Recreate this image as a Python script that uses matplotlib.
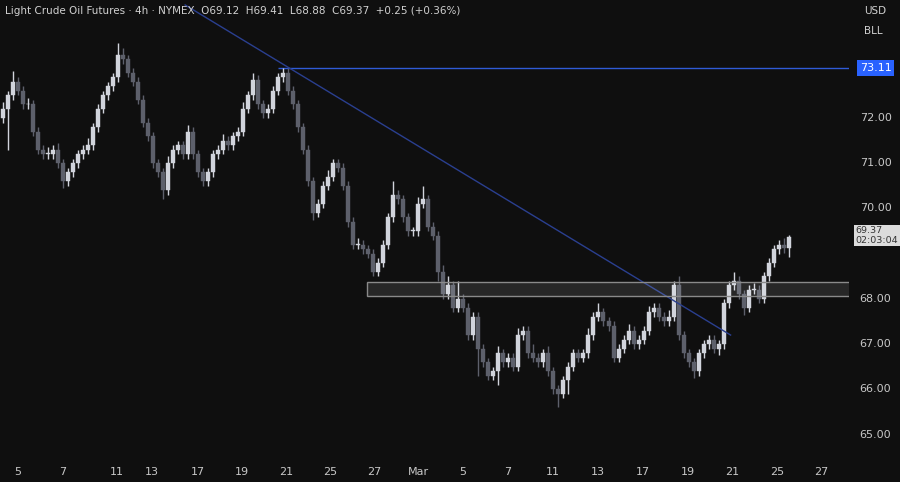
import matplotlib
matplotlib.use("Agg")
import matplotlib.pyplot as plt
from matplotlib.patches import Rectangle

closes = [72.2,72.5,72.8,72.6,72.3,72.3,71.7,71.3,71.2,71.2,
          71.3,71.0,70.6,70.8,71.0,71.2,71.3,71.4,71.8,72.2,
          72.5,72.7,72.9,73.4,73.3,73.0,72.8,72.4,71.9,71.6,
          71.0,70.8,70.4,71.0,71.3,71.4,71.2,71.7,71.2,70.8,
          70.6,70.8,71.2,71.3,71.5,71.4,71.6,71.7,72.2,72.5,
          72.85,72.3,72.1,72.2,72.6,72.9,73.0,72.6,72.3,71.8,
          71.3,70.6,69.9,70.1,70.5,70.7,71.0,70.9,70.5,69.7,
          69.2,69.2,69.1,69.0,68.6,68.8,69.2,69.8,70.3,70.2,
          69.8,69.5,69.5,70.1,70.2,69.6,69.4,68.6,68.1,68.3,
          67.8,68.0,67.8,67.2,67.6,66.9,66.6,66.3,66.4,66.8,
          66.6,66.7,66.5,67.2,67.3,66.8,66.7,66.6,66.8,66.4,
          66.0,65.9,66.2,66.5,66.8,66.7,66.8,67.2,67.6,67.7,
          67.5,67.4,66.7,66.9,67.1,67.3,67.0,67.1,67.3,67.7,
          67.8,67.6,67.5,67.6,68.3,67.2,66.8,66.6,66.4,66.8,
          67.0,67.1,66.9,67.0,67.9,68.3,68.4,68.1,67.8,68.2,
          68.2,68.0,68.5,68.8,69.1,69.2,69.12,69.37]
first_open = 72.0

wick_up = [0.15,0.1,0.25,0.1,0.1,0.15,0.1,0.1,0.1,0.15,
           0.1,0.15,0.1,0.1,0.1,0.1,0.1,0.15,0.1,0.1,
           0.1,0.1,0.1,0.25,0.15,0.1,0.1,0.1,0.1,0.1,
           0.1,0.1,0.1,0.15,0.1,0.1,0.1,0.15,0.1,0.1,
           0.1,0.1,0.1,0.1,0.15,0.1,0.1,0.1,0.15,0.1,
           0.15,0.1,0.1,0.1,0.1,0.1,0.1,0.1,0.1,0.1,
           0.1,0.1,0.1,0.1,0.1,0.15,0.1,0.1,0.1,0.1,
           0.1,0.15,0.1,0.1,0.1,0.1,0.1,0.1,0.3,0.1,
           0.1,0.1,0.1,0.15,0.3,0.1,0.1,0.1,0.15,0.2,
           0.1,0.4,0.1,0.1,0.1,0.1,0.1,0.1,0.1,0.15,
           0.1,0.1,0.1,0.15,0.1,0.1,0.2,0.1,0.1,0.15,
           0.1,0.1,0.1,0.1,0.1,0.1,0.1,0.15,0.1,0.2,
           0.1,0.1,0.1,0.1,0.1,0.15,0.1,0.1,0.1,0.15,
           0.1,0.1,0.1,0.15,0.1,0.2,0.1,0.1,0.1,0.1,
           0.1,0.1,0.1,0.1,0.1,0.1,0.2,0.1,0.1,0.1,
           0.15,0.1,0.1,0.1,0.1,0.1,0.15,0.04]
wick_dn = [0.1,0.9,0.1,0.1,0.1,0.1,0.1,0.1,0.1,0.1,
           0.1,0.1,0.15,0.1,0.1,0.1,0.1,0.1,0.1,0.1,
           0.1,0.1,0.1,0.1,0.1,0.1,0.1,0.1,0.1,0.1,
           0.1,0.1,0.2,0.1,0.1,0.1,0.1,0.1,0.1,0.1,
           0.1,0.1,0.1,0.1,0.1,0.1,0.1,0.1,0.1,0.1,
           0.1,0.1,0.1,0.1,0.1,0.1,0.1,0.1,0.1,0.1,
           0.1,0.1,0.15,0.1,0.1,0.1,0.1,0.1,0.1,0.1,
           0.1,0.1,0.1,0.1,0.1,0.1,0.1,0.1,0.1,0.1,
           0.1,0.1,0.1,0.1,0.1,0.1,0.1,0.2,0.1,0.1,
           0.1,0.1,0.1,0.1,0.1,0.6,0.1,0.1,0.1,0.3,
           0.1,0.1,0.1,0.1,0.1,0.1,0.1,0.1,0.1,0.1,
           0.1,0.3,0.1,0.3,0.1,0.1,0.1,0.1,0.1,0.1,
           0.1,0.1,0.1,0.1,0.1,0.1,0.1,0.1,0.1,0.1,
           0.1,0.1,0.1,0.1,0.1,0.1,0.1,0.1,0.15,0.1,
           0.1,0.1,0.1,0.15,0.1,0.1,0.1,0.1,0.15,0.1,
           0.1,0.1,0.1,0.1,0.1,0.1,0.1,0.2]

date_labels = ["5","7","11","13","17","19","21","25","27","Mar","5","7","11","13","17","19","21","25","27"]
date_pos = [3.0,12.0,22.8,29.8,39.0,47.8,56.6,65.4,74.2,83.0,91.8,100.8,109.8,118.8,127.8,136.8,145.8,154.8,163.6]
price_ticks = [65.0,66.0,67.0,68.0,70.0,71.0,72.0]
level_price = 73.11
zone_low, zone_high = 68.06, 68.38
trend_x = [36.4, 145.4]
trend_y = [74.5, 67.2]

BG = "#0f0f0f"
UP = "#d1d4dc"
DN = "#5d606b"

fig = plt.figure(figsize=(9, 4.82), dpi=100, facecolor=BG)
ax = fig.add_axes([0, 0.045, 0.943, 0.955], facecolor=BG)
ax.set_xlim(-0.6, 169)
ax.set_ylim(64.43, 74.61)

opens = [first_open] + closes[:-1]
for i, (o, c) in enumerate(zip(opens, closes)):
    col = UP if c >= o else DN
    hi = max(o, c) + wick_up[i]
    lo = min(o, c) - wick_dn[i]
    ax.vlines(i, lo, hi, color=col, lw=1, zorder=3)
    ax.add_patch(Rectangle((i - 0.4, min(o, c)), 0.8, max(abs(c - o), 0.02),
                           facecolor=col, edgecolor=col, lw=0.3, zorder=4))

ax.plot(trend_x, trend_y, color="#2a3f8f", lw=1, zorder=5)
ax.hlines(level_price, 55, 169, color="#2f5bd6", lw=1, zorder=2)
ax.add_patch(Rectangle((72.8, zone_low), 169, zone_high - zone_low, facecolor=(1, 1, 1, 0.1),
                       edgecolor="#8a8a8a", lw=1, zorder=6))

for s in ax.spines.values():
    s.set_visible(False)
ax.set_yticks([])
ax.set_xticks(date_pos)
ax.set_xticklabels(date_labels, color="#c8c8c8", fontsize=8)
ax.tick_params(axis="x", length=0, pad=5)

trans = ax.get_yaxis_transform()
for p in price_ticks:
    ax.text(1.013, p, f"{p:.2f}", transform=trans, color="#c8c8c8", fontsize=8, va="center", ha="left")
ax.text(1.013, level_price, f"{level_price:.2f}", transform=trans, color="white", fontsize=8, va="center",
        ha="left", bbox=dict(boxstyle="square,pad=0.25", fc="#2962ff", ec="none"))
last = closes[-1]
ax.text(1.008, last + 0.03, f"{last:.2f}\n02:03:04", transform=trans, color="#333333", fontsize=6.8,
        va="center", ha="left", linespacing=1.1,
        bbox=dict(boxstyle="square,pad=0.15", fc="#dcdcdc", ec="none"))

fig.text(0.006, 0.978, "Light Crude Oil Futures · 4h · NYMEX  O69.12  H69.41  L68.88  C69.37  +0.25 (+0.36%)",
         color="#d0d0d0", fontsize=7.5, va="center")
fig.text(0.96, 0.978, "USD", color="#d0d0d0", fontsize=7.5, va="center")
fig.text(0.96, 0.935, "BLL", color="#d0d0d0", fontsize=7.5, va="center")

fig.savefig("out.png", dpi=100, facecolor=BG)
